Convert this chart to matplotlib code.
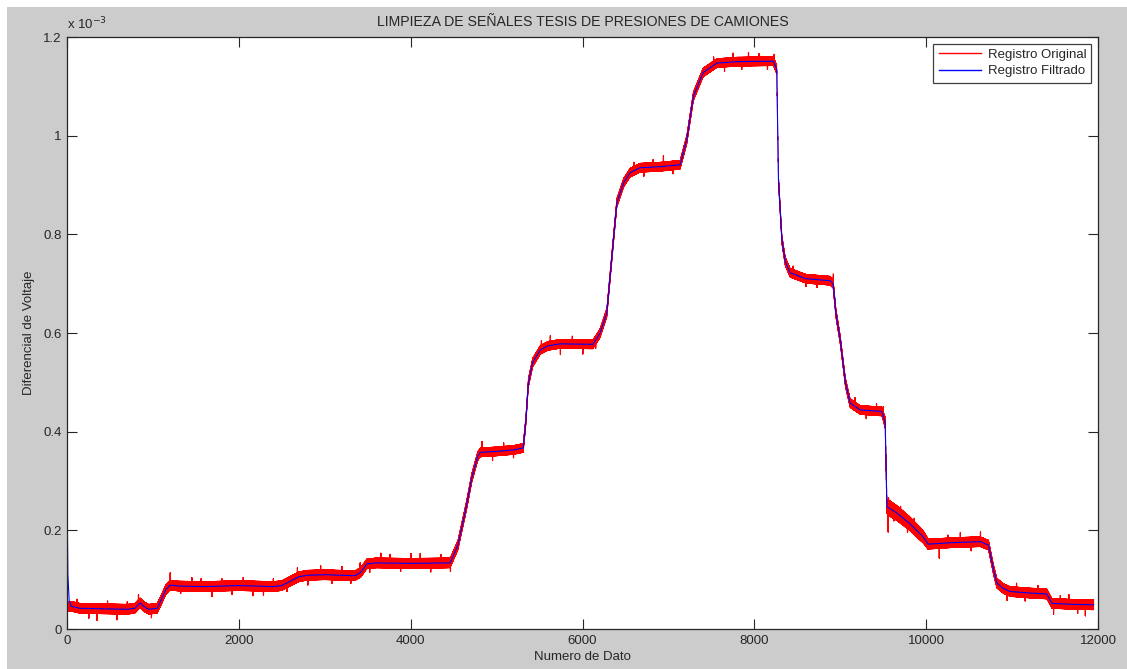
import numpy as np
import matplotlib
matplotlib.use("Agg")
import matplotlib.pyplot as plt
from matplotlib.patches import Rectangle
from matplotlib.ticker import FuncFormatter

plt.rcParams['font.family'] = ['Liberation Sans', 'DejaVu Sans']

# Registro filtrado (en unidades de 1e-3): numero de dato vs voltaje
filt_x = [0, 5, 10, 25, 50, 150, 400, 700, 790, 850, 900, 950, 1050, 1100, 1150,
          1200, 1300, 1600, 2000, 2400, 2500, 2600, 2700, 2800, 3000, 3350, 3420,
          3490, 3600, 4000, 4460, 4550, 4650, 4711, 4780, 4810, 5000, 5200, 5310,
          5340, 5370, 5420, 5510, 5600, 5740, 6120, 6170, 6205, 6283, 6360, 6400,
          6480, 6554, 6670, 6900, 7136, 7214, 7291, 7404, 7563, 7800, 8222, 8261,
          8281, 8321, 8360, 8417, 8600, 8882, 8917, 8950, 9000, 9060, 9115, 9232,
          9484, 9523, 9543, 9659, 9800, 9965, 10023, 10300, 10629, 10726, 10784,
          10823, 10900, 10978, 11200, 11405, 11463, 11700, 11950]
filt_y = [0.367, 0.20, 0.11, 0.058, 0.046, 0.042, 0.041, 0.040, 0.042, 0.053, 0.045,
          0.040, 0.042, 0.060, 0.080, 0.089, 0.087, 0.086, 0.088, 0.086, 0.088,
          0.097, 0.106, 0.109, 0.110, 0.108, 0.115, 0.132, 0.134, 0.133, 0.134,
          0.170, 0.250, 0.306, 0.350, 0.358, 0.360, 0.363, 0.367, 0.420, 0.499,
          0.540, 0.566, 0.574, 0.578, 0.577, 0.590, 0.600, 0.641, 0.789, 0.864,
          0.905, 0.925, 0.935, 0.937, 0.941, 0.992, 1.080, 1.128, 1.147, 1.150,
          1.151, 1.134, 0.911, 0.789, 0.745, 0.722, 0.710, 0.706, 0.700, 0.640,
          0.586, 0.500, 0.458, 0.444, 0.441, 0.418, 0.248, 0.235, 0.215, 0.187,
          0.172, 0.175, 0.177, 0.170, 0.120, 0.093, 0.082, 0.076, 0.073, 0.071,
          0.052, 0.050, 0.049]

# Registro original: mismo nivel pero sin el transitorio inicial del filtro
orig_x = [0] + filt_x[4:]
orig_y = [0.045] + filt_y[4:]

# Semi-ancho de la banda de ruido del registro original
band_x = [0, 4400, 4800, 9500, 9560, 9950, 10050, 11950]
band_hw = [0.010, 0.010, 0.009, 0.009, 0.016, 0.013, 0.010, 0.010]

# Picos sueltos del registro original: dato y desvio respecto al nivel
spike_x = [113, 250, 345, 470, 578, 700, 830, 980, 1200, 1320, 1450, 1560, 1685,
           1800, 1920, 2050, 2160, 2285, 2400, 2560, 2680, 2800, 2950, 3080, 3200,
           3300, 3410, 3520, 3650, 3760, 3880, 4000, 4110, 4230, 4350, 4460, 4828,
           4950, 5080, 5195, 5520, 5623, 5740, 5880, 6000, 6150, 6600, 6710, 6820,
           6940, 7050, 7524, 7650, 7750, 7850, 7930, 8050, 8150, 8230, 8450, 8600,
           8727, 8917, 9170, 9300, 9420, 9500, 9555, 9560, 9620, 9700, 9780, 9860,
           10150, 10250, 10396, 10520, 10629, 10940, 11050, 11150, 11300, 11480,
           11560, 11660, 11760, 11850]
spike_d = [0.017, -0.020, -0.024, 0.016, -0.022, 0.015, 0.020, -0.018, 0.025,
           -0.015, 0.018, 0.016, -0.021, 0.015, -0.018, 0.017, -0.020, -0.018,
           0.016, -0.018, 0.020, -0.020, 0.019, -0.017, 0.018, -0.016, 0.020,
           -0.018, 0.020, 0.018, -0.017, 0.020, 0.020, -0.018, 0.017, -0.018,
           0.022, -0.018, 0.016, -0.016, 0.018, 0.020, -0.022, 0.016, -0.020,
           -0.017, 0.017, -0.018, 0.015, 0.022, -0.017, 0.017, -0.018, 0.018,
           -0.016, 0.018, 0.016, -0.017, 0.018, 0.016, -0.016, -0.016, 0.022,
           0.018, -0.017, 0.015, 0.020, -0.050, 0.020, -0.020, 0.020, -0.022,
           0.020, -0.030, 0.016, 0.020, -0.018, 0.020, -0.021, 0.018, -0.017,
           0.016, -0.022, 0.017, 0.019, -0.018, -0.023]

n_datos = 11951
escala = 1e-3

x = np.arange(n_datos)
base = np.interp(x, orig_x, orig_y)
hw = np.interp(x, band_x, band_hw)
signo = np.where(x % 2 == 0, 1.0, -1.0)
original = base + signo * hw
for sx, sd in zip(spike_x, spike_d):
    # el pico cae en muestras con el mismo signo que el desvio
    i0 = sx if (signo[sx] > 0) == (sd > 0) else sx + 1
    idx = [i for i in (i0, i0 + 2, i0 + 4) if i < n_datos]
    original[idx] = base[idx] + sd

fig = plt.figure(figsize=(11.27, 6.69), dpi=100, facecolor='#cccccc')
# bordes blancos de la ventana
fig.patches.append(Rectangle((0, 1 - 7 / 669), 1, 7 / 669, transform=fig.transFigure,
                             facecolor='white', edgecolor='none', zorder=-1))
fig.patches.append(Rectangle((0, 0), 7 / 1127, 1, transform=fig.transFigure,
                             facecolor='white', edgecolor='none', zorder=-1))

ax = fig.add_axes([67 / 1127, 40 / 669, 1031 / 1127, 592 / 669])
ax.set_facecolor('white')

ax.plot(x, original * escala, color='#ff0000', linewidth=0.6, label='Registro Original')
ax.plot(np.array(filt_x), np.array(filt_y) * escala, color='#0000ff', linewidth=0.8,
        label='Registro Filtrado')

ax.set_xlim(0, 12000)
ax.set_ylim(0, 1.2e-3)
ax.set_xticks(np.arange(0, 12001, 2000))
ax.set_yticks(np.arange(0, 1.21e-3, 0.2e-3))
ax.yaxis.set_major_formatter(FuncFormatter(lambda v, p: '%g' % round(v / escala, 3)))

tc = '#262626'
ax.tick_params(direction='in', length=7, width=0.8, top=True, right=True,
               labelsize=9.5, colors=tc, pad=4)
for s in ax.spines.values():
    s.set_color(tc)
    s.set_linewidth(0.9)

fig.text(67 / 1127, 1 - 29 / 669, 'x 10$^{-3}$', fontsize=9.5, color=tc,
         ha='left', va='baseline')

ax.set_title('LIMPIEZA DE SEÑALES TESIS DE PRESIONES DE CAMIONES', fontsize=10.2,
             color=tc, pad=8)
ax.set_xlabel('Numero de Dato', fontsize=9.5, color=tc, labelpad=3)
ax.set_ylabel('Diferencial de Voltaje', fontsize=9.5, color=tc, labelpad=6)

leg = ax.legend(loc='upper right', fontsize=9.5, fancybox=False, framealpha=1,
                edgecolor='#404040', borderaxespad=0.5, handlelength=3.2,
                handletextpad=0.5, borderpad=0.4, labelspacing=0.3)
leg.get_frame().set_linewidth(0.9)
for h in leg.get_lines():
    h.set_linewidth(1.0)
for t in leg.get_texts():
    t.set_color(tc)

fig.savefig('out.png', dpi=100, facecolor=fig.get_facecolor())
